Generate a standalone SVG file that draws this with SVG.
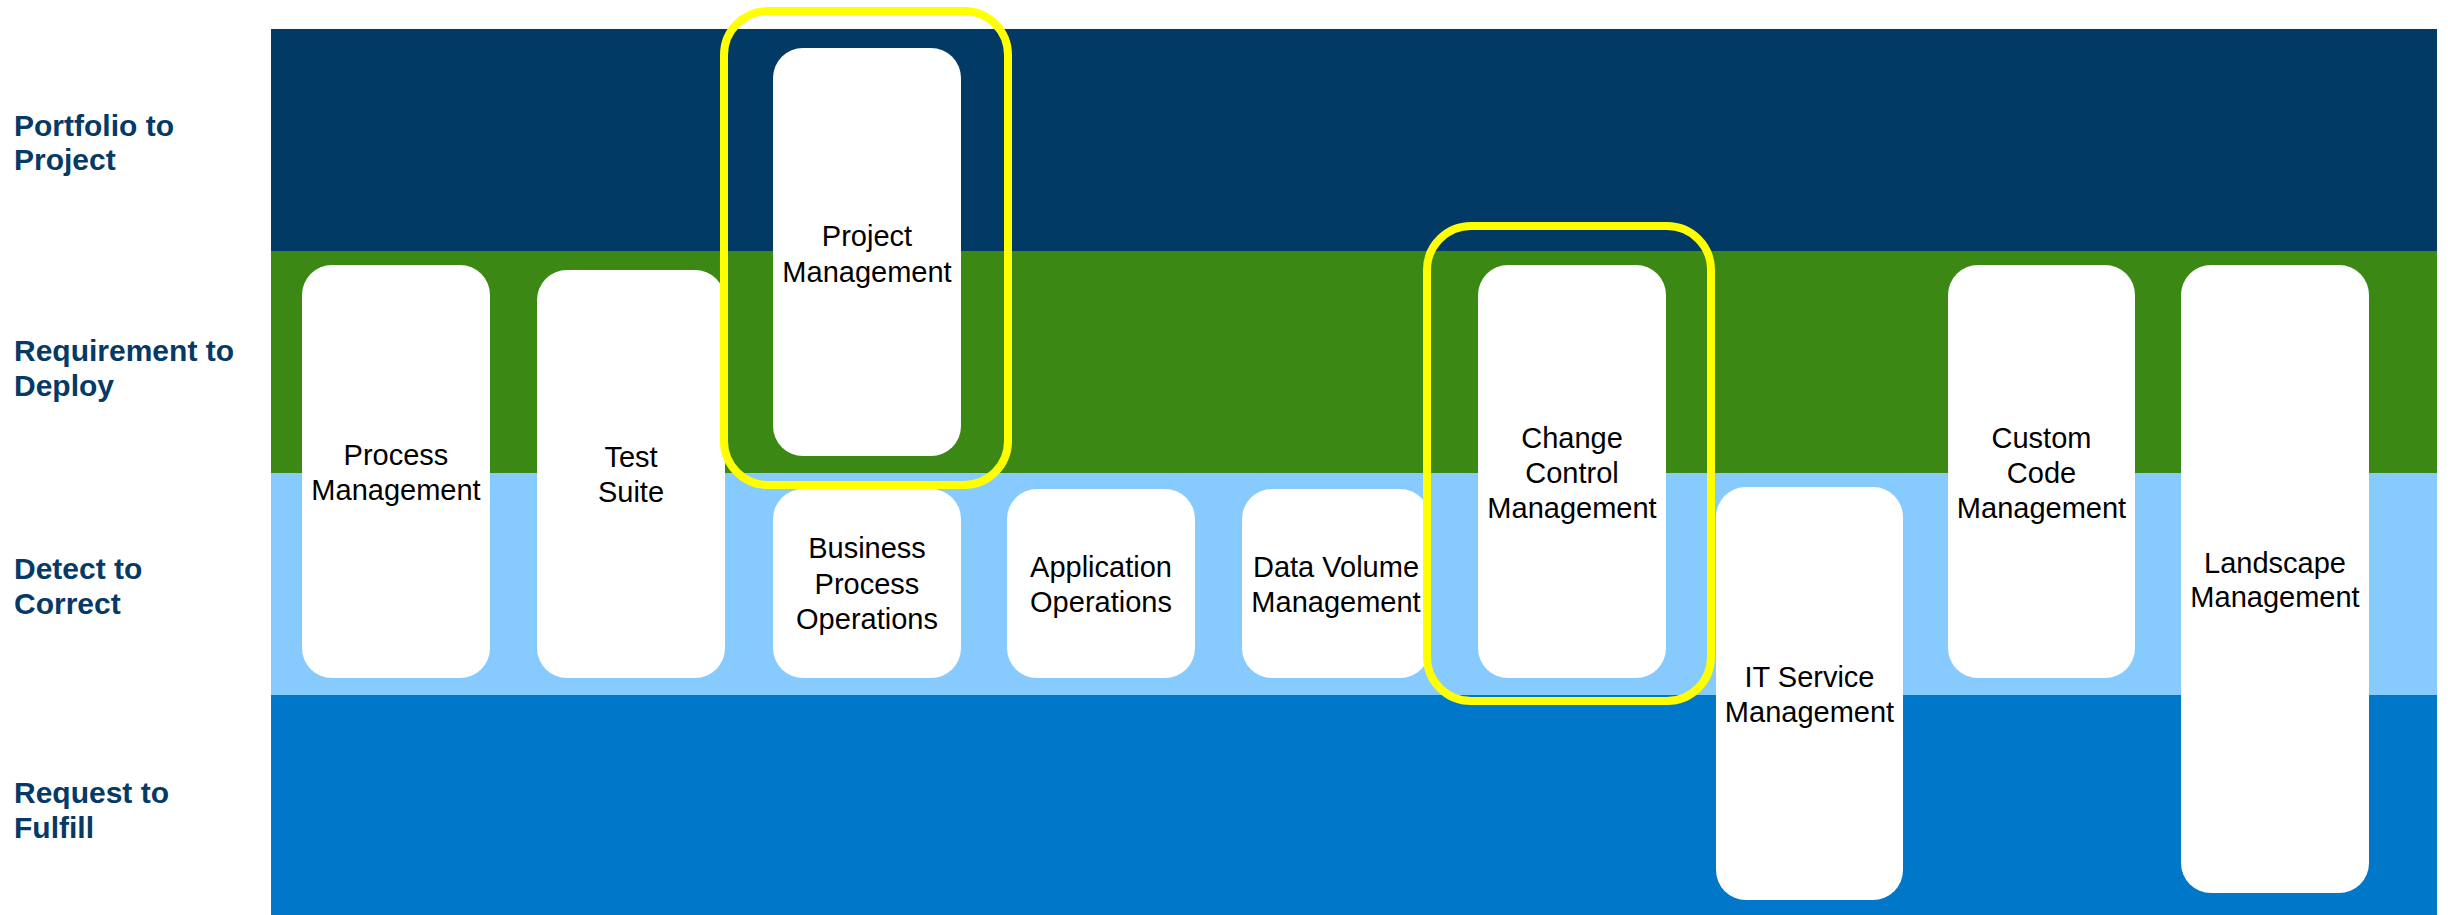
<svg xmlns="http://www.w3.org/2000/svg" width="2448" height="915" viewBox="0 0 2448 915">
<style>
.lane{font-family:"Liberation Sans",Arial,sans-serif;font-weight:bold;font-size:30px;fill:#063A66}
.node rect{fill:#FFFFFF}
.node text{font-family:"Liberation Sans",Arial,sans-serif;font-size:29px;fill:#000000;text-anchor:middle}
.hl{fill:none;stroke:#FFFF00;stroke-width:8}
</style>
<rect x="0" y="0" width="2448" height="915" fill="#FFFFFF"/>
<g id="bands">
<rect x="271" y="29" width="2166" height="222" fill="#023A66"/>
<rect x="271" y="251" width="2166" height="222" fill="#3B8914"/>
<rect x="271" y="473" width="2166" height="222" fill="#87CAFE"/>
<rect x="271" y="695" width="2166" height="220" fill="#0077C8"/>
</g>
<g id="lane-labels">
<text class="lane" x="14" y="136">Portfolio to</text>
<text class="lane" x="14" y="170">Project</text>
<text class="lane" x="14" y="361">Requirement to</text>
<text class="lane" x="14" y="396">Deploy</text>
<text class="lane" x="14" y="579">Detect to</text>
<text class="lane" x="14" y="614">Correct</text>
<text class="lane" x="14" y="803">Request to</text>
<text class="lane" x="14" y="838">Fulfill</text>
</g>
<g id="n-process" class="node"><rect x="302" y="265" width="188" height="413" rx="30"/><text x="396" y="465">Process</text><text x="396" y="500">Management</text></g>
<g id="n-test" class="node"><rect x="537" y="270" width="188" height="408" rx="30"/><text x="631" y="467">Test</text><text x="631" y="502">Suite</text></g>
<g id="n-project" class="node"><rect x="773" y="48" width="188" height="408" rx="30"/><text x="867" y="246">Project</text><text x="867" y="282">Management</text></g>
<g id="n-bpo" class="node"><rect x="773" y="489" width="188" height="189" rx="30"/><text x="867" y="558">Business</text><text x="867" y="594">Process</text><text x="867" y="629">Operations</text></g>
<g id="n-appops" class="node"><rect x="1007" y="489" width="188" height="189" rx="30"/><text x="1101" y="577">Application</text><text x="1101" y="612">Operations</text></g>
<g id="n-dvm" class="node"><rect x="1242" y="489" width="188" height="189" rx="30"/><text x="1336" y="577">Data Volume</text><text x="1336" y="612">Management</text></g>
<g id="n-ccm" class="node"><rect x="1478" y="265" width="188" height="413" rx="30"/><text x="1572" y="448">Change</text><text x="1572" y="483">Control</text><text x="1572" y="518">Management</text></g>
<g id="n-itsm" class="node"><rect x="1716" y="487" width="187" height="413" rx="30"/><text x="1809.5" y="687">IT Service</text><text x="1809.5" y="722">Management</text></g>
<g id="n-ccode" class="node"><rect x="1948" y="265" width="187" height="413" rx="30"/><text x="2041.5" y="448">Custom</text><text x="2041.5" y="483">Code</text><text x="2041.5" y="518">Management</text></g>
<g id="n-landscape" class="node"><rect x="2181" y="265" width="188" height="628" rx="30"/><text x="2275" y="573">Landscape</text><text x="2275" y="607">Management</text></g>
<g id="highlights">
<rect class="hl" x="724" y="11" width="284" height="474" rx="44"/>
<rect class="hl" x="1427" y="226" width="284" height="475" rx="44"/>
</g>
<g id="connectors"></g>
</svg>
